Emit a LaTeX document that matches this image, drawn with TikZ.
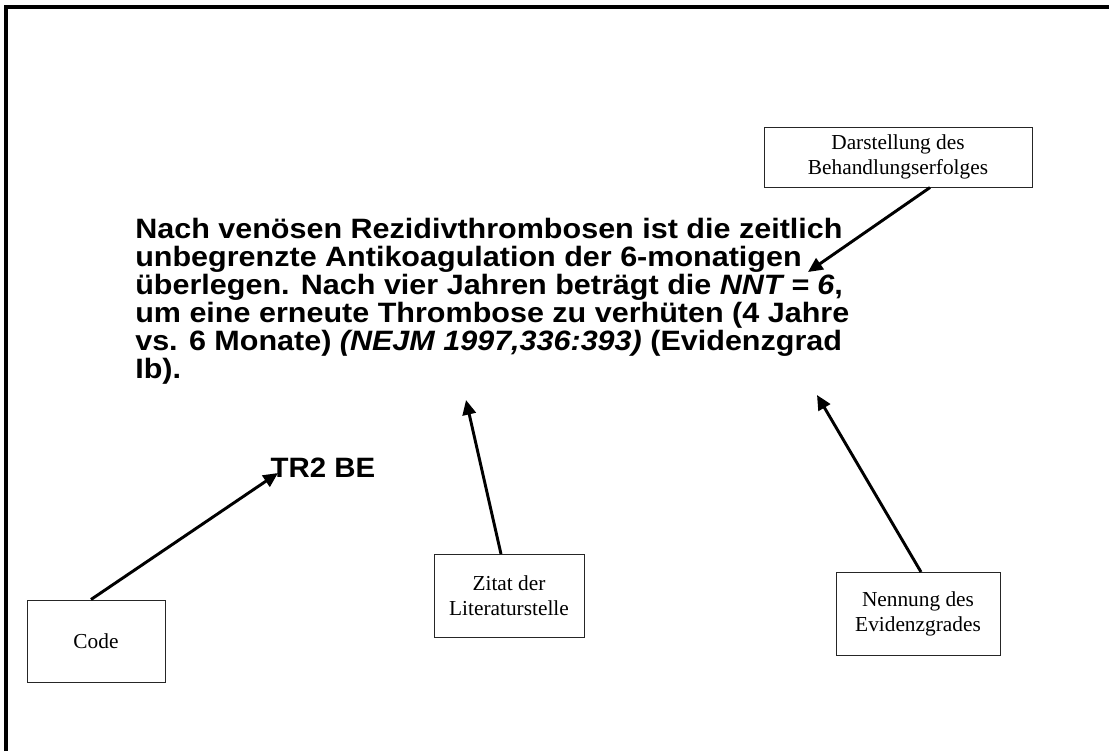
\documentclass[tikz,border=0pt]{standalone}
\usepackage{fontspec}
\setmainfont{Liberation Serif}
\setsansfont{Liberation Sans}
\usetikzlibrary{arrows.meta}
\begin{document}
\begin{tikzpicture}[x=0.75pt,y=-0.75pt,
  lbox/.style={draw=black!85, line width=0.75pt, align=center, inner sep=0pt,
    font=\fontsize{16pt}{19pt}\selectfont},
  arr/.style={line width=2.2pt, -{Triangle[length=11pt,width=10pt]}},
  maintext/.style={align=left, inner sep=0pt, anchor=north west, xscale=1.09,
    font=\sffamily\bfseries\fontsize{21pt}{21pt}\selectfont}]
\useasboundingbox (0,0) rectangle (1109,751);
\draw[line width=2.4pt] (6,751) -- (6,7) -- (1109,7);

\node[maintext] (main) at (135,218) {Nach venösen Rezidivthrombosen ist die zeitlich\\
unbegrenzte Antikoagulation der 6-monatigen\\
überlegen. Nach vier Jahren beträgt die \textit{NNT = 6},\\
um eine erneute Thrombose zu verhüten (4 Jahre\\
vs. 6 Monate) \textit{(NEJM 1997,336:393)} (Evidenzgrad\\
Ib).};
\node[font=\sffamily\bfseries\fontsize{21pt}{21pt}\selectfont, inner sep=0pt, xscale=1.05] (code) at (323,468) {TR2 BE};

\node[lbox, minimum width=201pt, minimum height=45pt] (dar) at (898,157) {Darstellung des\\Behandlungserfolges};
\node[lbox, minimum width=103.5pt, minimum height=61.5pt] (cbox) at (96,641) {Code};
\node[lbox, minimum width=112.5pt, minimum height=62.25pt] (zit) at (509,596) {Zitat der\\Literaturstelle};
\node[lbox, minimum width=123pt, minimum height=62.25pt] (nen) at (918,614) {Nennung des\\Evidenzgrades};

\coordinate (tdar) at (808,272);
\coordinate (tcode) at (278,473);
\coordinate (tzit) at (466,400);
\coordinate (tnen) at (817,395);

\draw[arr] ([xshift=24pt]dar.south) -- (tdar);
\draw[arr] ([xshift=-3.75pt]cbox.north) -- (tcode);
\draw[arr] ([xshift=-6pt]zit.north) -- (tzit);
\draw[arr] ([xshift=2.25pt]nen.north) -- (tnen);
\end{tikzpicture}
\end{document}
